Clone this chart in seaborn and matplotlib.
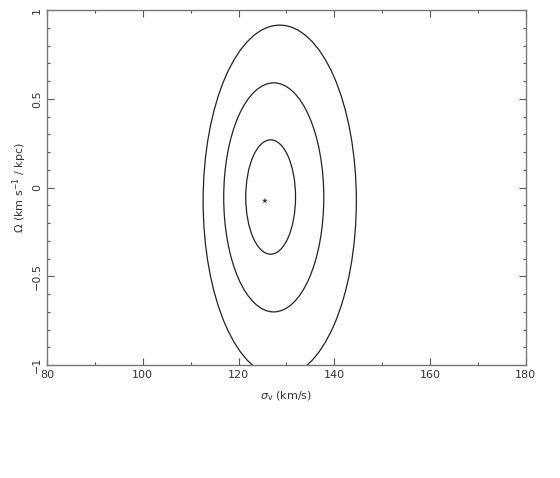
import matplotlib
matplotlib.use("Agg")
import matplotlib.pyplot as plt
from matplotlib.patches import Ellipse
from matplotlib.ticker import MultipleLocator
import seaborn as sns
import pandas as pd

# best fit point
best_sigma = [125.5]
best_omega = [-0.074]

# confidence contours (1, 2, 3 sigma)
contour_sigma_center = [126.7, 127.35, 128.6]
contour_omega_center = [-0.053, -0.055, -0.075]
contour_sigma_halfwidth = [5.2, 10.45, 16.0]
contour_omega_halfheight = [0.322, 0.645, 0.99]

x_ticks = [80, 100, 120, 140, 160, 180]
y_ticks = [-1, -0.5, 0, 0.5, 1]
y_ticklabels = ["\u22121", "\u22120.5", "0", "0.5", "1"]

sns.set_style("ticks")
plt.rcParams["font.family"] = ["DejaVu Sans"]

fig = plt.figure(figsize=(5.6, 4.78), dpi=100)
ax = fig.add_axes([0.084, 0.236, 0.855, 0.743])

for cx, cy, hw, hh in zip(contour_sigma_center, contour_omega_center,
                          contour_sigma_halfwidth, contour_omega_halfheight):
    ax.add_patch(Ellipse((cx, cy), 2 * hw, 2 * hh, fill=False,
                         edgecolor="#222222", linewidth=0.9))

best = pd.DataFrame({"sigma": best_sigma, "omega": best_omega})
sns.scatterplot(data=best, x="sigma", y="omega", marker="*", s=20,
                color="#333333", edgecolor="none", ax=ax)

ax.set_xlim(80, 180)
ax.set_ylim(-1, 1)
ax.set_xticks(x_ticks)
ax.set_yticks(y_ticks)
ax.set_yticklabels(y_ticklabels, rotation=90, va="center")
ax.xaxis.set_minor_locator(MultipleLocator(10))
ax.yaxis.set_minor_locator(MultipleLocator(0.1))
ax.tick_params(which="both", direction="in", top=True, right=True,
               color="#555555", labelcolor="#333333", labelsize=8)
ax.tick_params(which="major", length=5, width=0.8)
ax.tick_params(which="minor", length=2.5, width=0.8)
for s in ax.spines.values():
    s.set_color("#777777")
    s.set_linewidth(1.0)

ax.set_xlabel(r"$\sigma_{\rm v}$ (km/s)", fontsize=8, color="#333333", labelpad=7)
ax.set_ylabel(r"$\Omega$ (km s$^{-1}$ / kpc)", fontsize=8, color="#333333", labelpad=2)

fig.savefig("out.png", dpi=100)
